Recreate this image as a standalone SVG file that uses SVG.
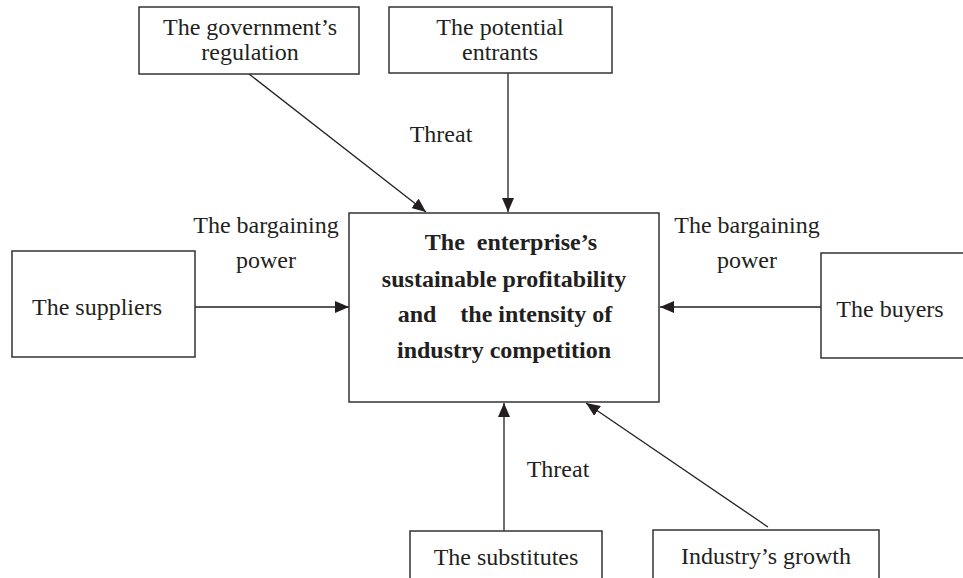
<svg xmlns="http://www.w3.org/2000/svg" width="963" height="578" viewBox="0 0 963 578">
  <style>
    .box { fill: #ffffff; stroke: #333333; stroke-width: 1.5; }
    .lbl { font-family: "Liberation Serif", "Times New Roman", serif; font-size: 24px; fill: #231f20; text-anchor: middle; }
    .core { font-family: "Liberation Serif", "Times New Roman", serif; font-size: 24px; font-weight: bold; fill: #231f20; text-anchor: middle; }
    .edge { stroke: #231f20; stroke-width: 1.3; fill: none; marker-end: url(#head); }
  </style>
  <defs>
    <marker id="head" viewBox="0 0 14 12" refX="14" refY="6" markerWidth="14" markerHeight="12" markerUnits="userSpaceOnUse" orient="auto">
      <path d="M0,0 L14,6 L0,12 Z" fill="#231f20"/>
    </marker>
  </defs>
  <rect width="963" height="578" fill="#ffffff"/>

  <g id="connectors">
    <line class="edge" x1="249" y1="74" x2="426" y2="212"/>
    <line class="edge" x1="508" y1="73" x2="508" y2="212"/>
    <line class="edge" x1="195" y1="307" x2="349" y2="307"/>
    <line class="edge" x1="821" y1="307" x2="660" y2="307"/>
    <line class="edge" x1="504" y1="531" x2="504" y2="403"/>
    <line class="edge" x1="768" y1="527" x2="586" y2="403"/>
    <text class="lbl" x="441" y="142">Threat</text>
    <text class="lbl" x="558" y="477">Threat</text>
    <text class="lbl" x="266" y="233">The bargaining</text>
    <text class="lbl" x="266" y="268">power</text>
    <text class="lbl" x="747" y="233">The bargaining</text>
    <text class="lbl" x="747" y="268">power</text>
  </g>

  <g id="core">
    <rect class="box" x="349" y="213" width="310" height="189"/>
    <text class="core" x="511" y="250" xml:space="preserve">The  enterprise’s</text>
    <text class="core" x="504" y="287">sustainable profitability</text>
    <text class="core" x="505" y="322" xml:space="preserve">and    the intensity of</text>
    <text class="core" x="504" y="358">industry competition</text>
  </g>

  <g id="regulation">
    <rect class="box" x="139" y="7" width="220" height="67"/>
    <text class="lbl" x="250" y="35">The government’s</text>
    <text class="lbl" x="250" y="60">regulation</text>
  </g>

  <g id="entrants">
    <rect class="box" x="389" y="7" width="223" height="66"/>
    <text class="lbl" x="500" y="35">The potential</text>
    <text class="lbl" x="500" y="60">entrants</text>
  </g>

  <g id="suppliers">
    <rect class="box" x="12" y="251" width="183" height="106"/>
    <text class="lbl" x="97" y="315">The suppliers</text>
  </g>

  <g id="buyers">
    <rect class="box" x="821" y="253" width="150" height="105"/>
    <text class="lbl" x="890" y="317">The buyers</text>
  </g>

  <g id="substitutes">
    <rect class="box" x="410" y="531" width="192" height="60"/>
    <text class="lbl" x="506" y="565">The substitutes</text>
  </g>

  <g id="growth">
    <rect class="box" x="653" y="530" width="226" height="60"/>
    <text class="lbl" x="766" y="564">Industry’s growth</text>
  </g>
</svg>
